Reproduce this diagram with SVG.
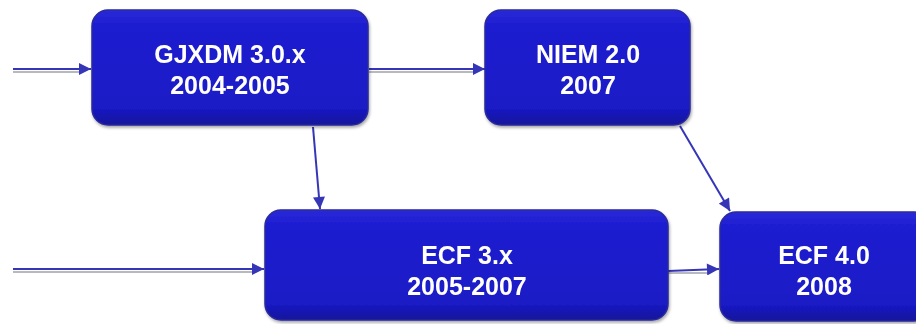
<svg xmlns="http://www.w3.org/2000/svg" width="916" height="324" viewBox="0 0 916 324">
<style>
.box{fill:url(#g);stroke:#2a2a9a;stroke-width:1.5}
.t{font-family:"Liberation Sans",Arial,sans-serif;font-weight:bold;font-size:25px;fill:#fff;text-anchor:middle}
.c{stroke:#3535b8;stroke-width:2;fill:none;marker-end:url(#ah)}
.s{stroke:#b8b8c0;stroke-width:2;fill:none}
</style>
<defs>
<linearGradient id="g" x1="0" y1="0" x2="0" y2="1">
<stop offset="0" stop-color="#2a2ad8"/>
<stop offset="0.15" stop-color="#1c1cd0"/>
<stop offset="0.85" stop-color="#1a1ac6"/>
<stop offset="1" stop-color="#14149a"/>
</linearGradient>
<filter id="sh" x="-5%" y="-5%" width="110%" height="115%">
<feDropShadow dx="1" dy="2" stdDeviation="1.5" flood-color="#000" flood-opacity="0.35"/>
</filter>
<marker id="ah" viewBox="0 0 10 10" refX="10" refY="5" markerWidth="14" markerHeight="12" orient="auto" markerUnits="userSpaceOnUse">
<path d="M0,0 L10,5 L0,10 z" fill="#3535b8"/>
</marker>
</defs>
<g id="connectors">
<path class="s" d="M13,72 H80"/>
<path class="c" d="M13,69 H91"/>
<path class="s" d="M369,72 H474"/>
<path class="c" d="M369,69 H485"/>
<path class="c" d="M313,127 L320,209"/>
<path class="c" d="M680,126 L730,211"/>
<path class="s" d="M13,272 H252"/>
<path class="c" d="M13,269 H264"/>
<path class="s" d="M668,273 H708"/>
<path class="c" d="M668,271 L719,269"/>
</g>
<g id="gjxdm" filter="url(#sh)">
<rect class="box" x="92" y="10" width="276" height="115" rx="16"/>
<text class="t" x="230" y="63">GJXDM 3.0.x</text>
<text class="t" x="230" y="94">2004-2005</text>
</g>
<g id="niem" filter="url(#sh)">
<rect class="box" x="485" y="10" width="205" height="115" rx="16"/>
<text class="t" x="588" y="63">NIEM 2.0</text>
<text class="t" x="588" y="94">2007</text>
</g>
<g id="ecf3" filter="url(#sh)">
<rect class="box" x="265" y="210" width="403" height="110" rx="16"/>
<text class="t" x="467" y="264">ECF 3.x</text>
<text class="t" x="467" y="295">2005-2007</text>
</g>
<g id="ecf4" filter="url(#sh)">
<rect class="box" x="720" y="212" width="210" height="109" rx="16"/>
<text class="t" x="824" y="264">ECF 4.0</text>
<text class="t" x="824" y="295">2008</text>
</g>
</svg>
